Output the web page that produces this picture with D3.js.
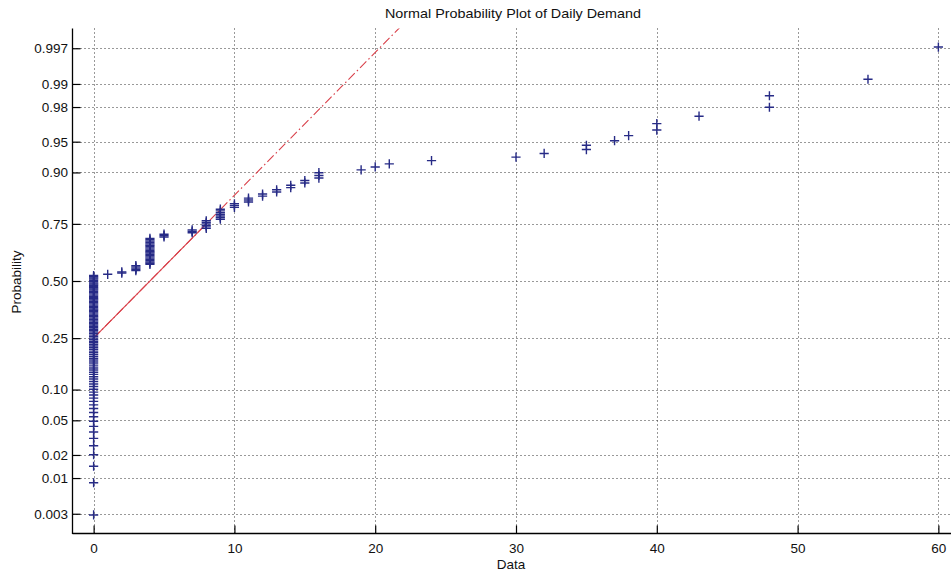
<!DOCTYPE html>
<html>
<head>
<meta charset="utf-8">
<script src="https://cdn.jsdelivr.net/npm/d3@7/dist/d3.min.js"></script>
<style>
  html, body { margin: 0; padding: 0; background: #fff; }
  svg { display: block; }
  text { font-family: "Liberation Sans", Arial, Helvetica, sans-serif; fill: #111; }
</style>
</head>
<body>
<svg id="chart" width="951" height="573"></svg>
<script>
// ---- Data ----
const chartTitle = "Normal Probability Plot of Daily Demand";
const xLabel = "Data";
const yLabel = "Probability";
// distinct daily-demand values and how many days had each value
const demandValues = [0, 1, 2, 3, 4, 5, 7, 8, 9, 10, 11, 12, 13, 14, 15, 16, 19, 20, 21, 24, 30, 32, 35, 37, 38, 40, 43, 48, 55, 60];
const demandCounts = [92, 1, 2, 5, 21, 3, 3, 6, 7, 3, 3, 2, 2, 2, 2, 3, 1, 1, 1, 1, 1, 1, 2, 1, 1, 2, 1, 2, 1, 1];
const probTicks = [0.003, 0.01, 0.02, 0.05, 0.10, 0.25, 0.50, 0.75, 0.90, 0.95, 0.98, 0.99, 0.997];
const probTickLabels = ["0.003", "0.01", "0.02", "0.05", "0.10", "0.25", "0.50", "0.75", "0.90", "0.95", "0.98", "0.99", "0.997"];
const dataTicks = [0, 10, 20, 30, 40, 50, 60];
const dataTickLabels = ["0", "10", "20", "30", "40", "50", "60"];
const xLimits = [-1.5, 61.5];

(function () {
// ---- inverse normal CDF (Acklam) ----
function norminv(p) {
  const a = [-3.969683028665376e+01, 2.209460984245205e+02, -2.759285104469687e+02, 1.383577518672690e+02, -3.066479806614716e+01, 2.506628277459239e+00];
  const b = [-5.447609879822406e+01, 1.615858368580409e+02, -1.556989798598866e+02, 6.680131188771972e+01, -1.328068155288572e+01];
  const c = [-7.784894002430293e-03, -3.223964580411365e-01, -2.400758277161838e+00, -2.549732539343734e+00, 4.374664141464968e+00, 2.938163982698783e+00];
  const d = [7.784695709041462e-03, 3.224671290700398e-01, 2.445134137142996e+00, 3.754408661907416e+00];
  const pl = 0.02425, ph = 1 - pl;
  let q, r;
  if (p < pl) {
    q = Math.sqrt(-2 * Math.log(p));
    return (((((c[0]*q+c[1])*q+c[2])*q+c[3])*q+c[4])*q+c[5]) / ((((d[0]*q+d[1])*q+d[2])*q+d[3])*q+1);
  } else if (p <= ph) {
    q = p - 0.5; r = q*q;
    return (((((a[0]*r+a[1])*r+a[2])*r+a[3])*r+a[4])*r+a[5])*q / (((((b[0]*r+b[1])*r+b[2])*r+b[3])*r+b[4])*r+1);
  } else {
    q = Math.sqrt(-2 * Math.log(1 - p));
    return -(((((c[0]*q+c[1])*q+c[2])*q+c[3])*q+c[4])*q+c[5]) / ((((d[0]*q+d[1])*q+d[2])*q+d[3])*q+1);
  }
}

// ---- sample and plotting positions (as normplot does) ----
const sample = [];
demandValues.forEach((v, k) => { for (let j = 0; j < demandCounts[k]; j++) sample.push(v); });
sample.sort((a, b) => a - b);
const n = sample.length;
const points = sample.map((v, i) => ({ x: v, z: norminv((i + 0.5) / n) }));

function prctile(sorted, pct) {
  const pos = pct / 100 * sorted.length + 0.5; // 1-based
  const lo = Math.max(1, Math.min(sorted.length, Math.floor(pos)));
  const hi = Math.max(1, Math.min(sorted.length, Math.ceil(pos)));
  const t = pos - Math.floor(pos);
  return sorted[lo - 1] + (sorted[hi - 1] - sorted[lo - 1]) * t;
}
const q1 = prctile(sample, 25), q3 = prctile(sample, 75);
const z1 = norminv(0.25), z3 = norminv(0.75);
const slope = (z3 - z1) / (q3 - q1);
const minX = d3.min(sample), maxX = d3.max(sample);
const lineFull = [{ x: minX, z: z1 + slope * (minX - q1) }, { x: maxX, z: z1 + slope * (maxX - q1) }];
const lineSolid = [{ x: q1, z: z1 }, { x: q3, z: z3 }];

// ---- layout ----
const svg = d3.select("#chart");
const pLeft = 72.5, pTop = 28.5, pBottom = 533.5;
const xScale = d3.scaleLinear().domain(xLimits).range([pLeft, 959.5]);
const zLim = norminv(0.25 / n);
const yScale = d3.scaleLinear().domain([zLim, -zLim]).range([pBottom, pTop]);
const pRight = xScale.range()[1];

svg.append("defs").append("clipPath").attr("id", "plotclip")
  .append("rect").attr("x", pLeft).attr("y", pTop).attr("width", pRight - pLeft).attr("height", pBottom - pTop);

// grid
const grid = svg.append("g").attr("stroke", "#333").attr("stroke-width", 1).attr("stroke-dasharray", "1,3");
grid.selectAll("line.gx").data(dataTicks).join("line").attr("class", "gx")
  .attr("x1", d => Math.round(xScale(d)) + 0.5).attr("x2", d => Math.round(xScale(d)) + 0.5)
  .attr("y1", pTop).attr("y2", pBottom);
grid.selectAll("line.gy").data(probTicks).join("line").attr("class", "gy")
  .attr("y1", d => Math.round(yScale(norminv(d))) + 0.5).attr("y2", d => Math.round(yScale(norminv(d))) + 0.5)
  .attr("x1", pLeft).attr("x2", pRight);

// reference lines
const lineGen = d3.line().x(d => xScale(d.x)).y(d => yScale(d.z));
const lines = svg.append("g").attr("clip-path", "url(#plotclip)");
lines.append("path").datum(lineFull).attr("d", lineGen)
  .attr("fill", "none").attr("stroke", "#d9404a").attr("stroke-width", 1.1).attr("stroke-dasharray", "9,3,1.5,3");
lines.append("path").datum(lineSolid).attr("d", lineGen)
  .attr("fill", "none").attr("stroke", "#d9404a").attr("stroke-width", 1.1);

// data markers
const ms = 4.6;
svg.append("g").selectAll("path").data(points).join("path")
  .attr("transform", d => `translate(${xScale(d.x)},${yScale(d.z)})`)
  .attr("d", `M${-ms},0H${ms}M0,${-ms}V${ms}`)
  .attr("fill", "none").attr("stroke", "#272b86").attr("stroke-width", 1.4);

// axes
const xAxis = d3.axisBottom(xScale).tickValues(dataTicks).tickFormat((d, i) => dataTickLabels[i]).tickSizeInner(-8).tickSizeOuter(0).tickPadding(10);
const gx = svg.append("g").attr("transform", `translate(0,${pBottom})`).call(xAxis);
const yAxis = d3.axisLeft(yScale).tickValues(probTicks.map(norminv)).tickFormat((d, i) => probTickLabels[i]).tickSizeInner(-8).tickSizeOuter(0).tickPadding(4.5);
const gy = svg.append("g").attr("transform", `translate(${pLeft},0)`).call(yAxis);
[gx, gy].forEach(g => {
  g.select(".domain").remove();
  g.selectAll(".tick line").attr("stroke", "#000").attr("stroke-width", 1.2);
  g.selectAll(".tick text").attr("font-size", 13.5).attr("fill", "#111")
    .attr("font-family", '"Liberation Sans", Arial, sans-serif');
});
svg.append("line").attr("x1", pLeft).attr("x2", pLeft).attr("y1", pTop).attr("y2", pBottom + 0.5).attr("stroke", "#000").attr("stroke-width", 1.3);
svg.append("line").attr("x1", pLeft).attr("x2", pRight).attr("y1", pBottom).attr("y2", pBottom).attr("stroke", "#000").attr("stroke-width", 1.3);

// labels
svg.append("text").attr("x", 513).attr("y", 18).attr("text-anchor", "middle").attr("font-size", 13)
  .attr("textLength", 256).attr("lengthAdjust", "spacingAndGlyphs").text(chartTitle);
svg.append("text").attr("x", 511).attr("y", 569).attr("text-anchor", "middle").attr("font-size", 13.5).text(xLabel);
svg.append("text").attr("transform", "translate(21,282) rotate(-90)").attr("text-anchor", "middle").attr("font-size", 13.5).text(yLabel);
})();
</script>
</body>
</html>
